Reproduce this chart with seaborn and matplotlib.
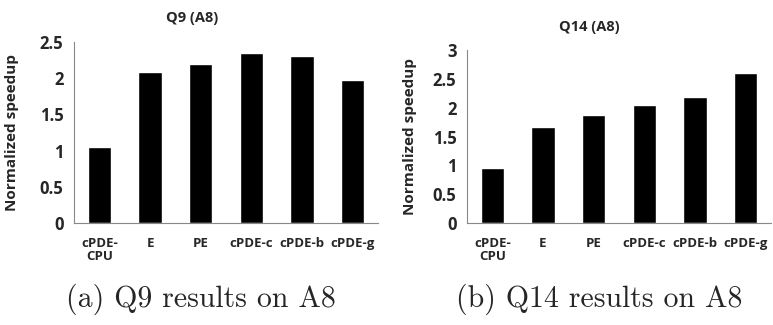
import numpy as np
import pandas as pd
import seaborn as sns
import matplotlib.pyplot as plt

# Data
categories = ["cPDE-\nCPU", "E", "PE", "cPDE-c", "cPDE-b", "cPDE-g"]
q9_speedup = [1.05, 2.08, 2.19, 2.35, 2.30, 1.97]
q14_speedup = [0.96, 1.67, 1.88, 2.04, 2.19, 2.60]

sns.set_style("white")
plt.rcParams["font.family"] = ["Open Sans", "DejaVu Sans"]

fig = plt.figure(figsize=(7.73, 3.25), dpi=100)
W, H = 773, 325


def panel(x0, x1, ytop, ybot):
    return fig.add_axes([x0 / W, 1 - ybot / H, (x1 - x0) / W, (ybot - ytop) / H])


def draw(ax, values, ymax, yticks, ylab_x):
    df = pd.DataFrame({"cat": categories, "val": values})
    sns.barplot(data=df, x="cat", y="val", color="black", width=0.46,
                saturation=1, ax=ax)
    ax.set_ylim(0, ymax)
    ax.set_xlim(-0.5, len(categories) - 0.5)
    ax.set_yticks(yticks)
    ax.set_yticklabels([f"{t:g}" for t in yticks], fontsize=12, fontweight="bold")
    ax.set_xticks(range(len(categories)))
    ax.set_xticklabels(categories, fontsize=9.5, fontweight="bold", linespacing=1.05)
    ax.set_xticks(np.arange(-0.5, len(categories) + 0.5, 1), minor=True)
    ax.tick_params(axis="x", which="major", length=0, pad=10)
    ax.tick_params(axis="x", which="minor", length=4, color="#888888", width=0.8)
    ax.tick_params(axis="y", length=3.6, color="#888888", width=0.8, pad=4)
    ax.set_xlabel("")
    ax.set_ylabel("Normalized speedup", fontsize=11, fontweight="bold")
    ax.yaxis.set_label_coords(ylab_x, 0.5)
    for s in ["top", "right"]:
        ax.spines[s].set_visible(False)
    for s in ["left", "bottom"]:
        ax.spines[s].set_color("#888888")
        ax.spines[s].set_linewidth(0.8)


ax1 = panel(74, 378, 42, 223)
draw(ax1, q9_speedup, 2.5, [0, 0.5, 1, 1.5, 2, 2.5], (19 - 74) / 304)
fig.text(192 / W, 1 - 18 / H, "Q9 (A8)", ha="center", va="center",
         fontsize=10.5, fontweight="bold")

ax2 = panel(467, 771, 50, 223)
draw(ax2, q14_speedup, 3, [0, 0.5, 1, 1.5, 2, 2.5, 3], (417 - 467) / 304)
fig.text(589 / W, 1 - 27 / H, "Q14 (A8)", ha="center", va="center",
         fontsize=10.5, fontweight="bold")

cap_font = {"family": ["cmr10", "DejaVu Serif"], "size": 21.5}
fig.text(201 / W, 1 - 299 / H, "(a) Q9 results on A8", ha="center", va="center", **cap_font)
fig.text(599 / W, 1 - 299 / H, "(b) Q14 results on A8", ha="center", va="center", **cap_font)

fig.savefig("out.png", dpi=100)
